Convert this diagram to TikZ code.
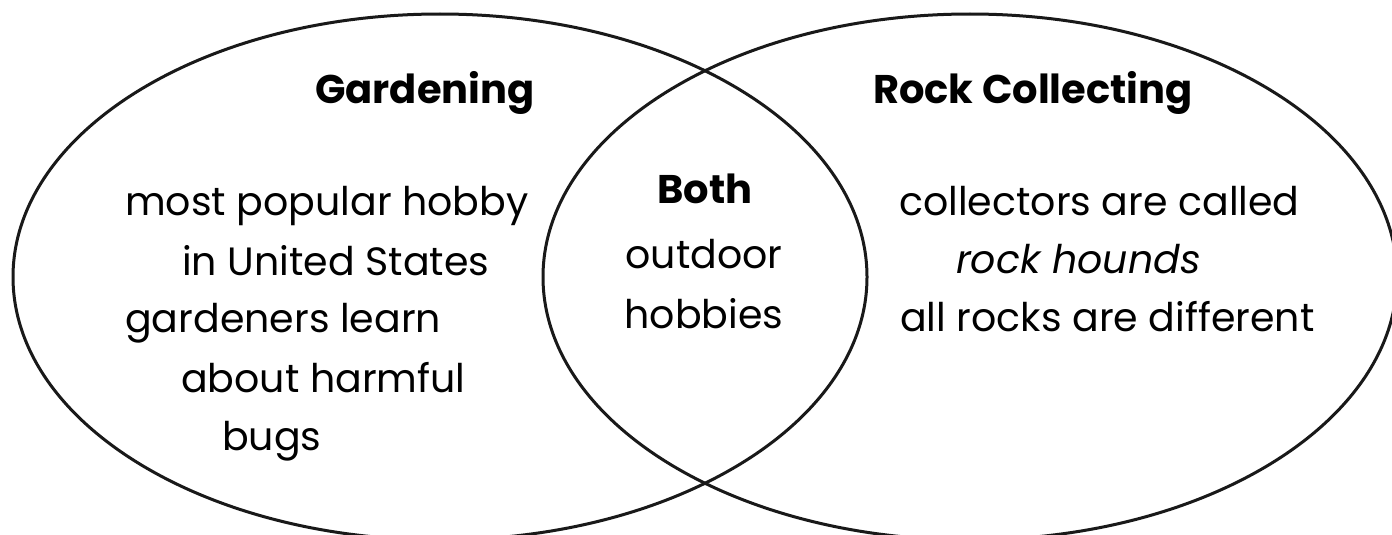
\documentclass[tikz,border=0pt]{standalone}
\usepackage{fontspec}
\setmainfont{Poppins}
\begin{document}
\begin{tikzpicture}[x=1pt,y=-1pt,
  venn/.style={line width=3pt, draw=black!90},
  txt/.style={anchor=base west, inner sep=0pt, font=\fontsize{39.5}{48}\selectfont},
  ttl/.style={anchor=base west, inner sep=0pt, font=\fontsize{40}{48}\selectfont\bfseries},
  ctr/.style={anchor=base, inner sep=0pt, font=\fontsize{39.5}{48}\selectfont}]
\useasboundingbox (0,0) rectangle (1392,535);
\clip (0,0) rectangle (1392,535);
\fill[white] (0,0) rectangle (1392,535);
\draw[venn] (440,277) ellipse [x radius=427, y radius=263];
\draw[venn] (970,277) ellipse [x radius=427, y radius=263];
% left
\node[ttl] (gard) at (315,103) {Gardening};
\node[txt] (l1) at (125,215) {most popular hobby};
\node[txt] (l2) at (182,275) {in United States};
\node[txt] (l3) at (125,332) {gardeners learn};
\node[txt] (l4) at (181,392) {about harmful};
\node[txt] (l5) at (222,450) {bugs};
% center
\node[ctr, font=\fontsize{40}{48}\selectfont\bfseries] (both) at (705,203) {Both};
\node[ctr] (c1) at (704,268) {outdoor};
\node[ctr] (c2) at (704,328) {hobbies};
% right
\node[ttl] (rock) at (873,103) {Rock Collecting};
\node[txt] (r1) at (899,215) {collectors are called};
\node[txt, font=\fontsize{39.5}{48}\selectfont\itshape] (r2) at (956,273) {rock hounds};
\node[txt] (r3) at (900,331) {all rocks are different};
\end{tikzpicture}
\end{document}
